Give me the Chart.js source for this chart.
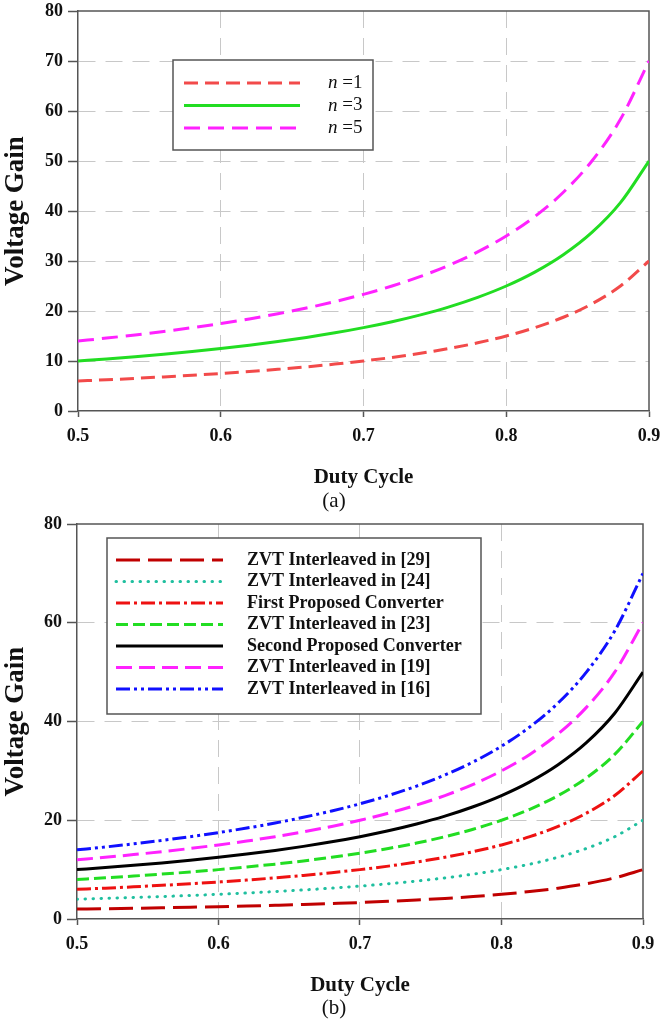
<!DOCTYPE html>
<html>
<head>
<meta charset="utf-8">
<script src="https://cdn.jsdelivr.net/npm/chart.js@4.4.1/dist/chart.umd.min.js"></script>
<style>
html,body{margin:0;padding:0;background:#fff;width:660px;height:1022px;overflow:hidden;position:relative}
.wrap{position:absolute;left:0;width:660px}
#w1{top:0;height:520px}
#w2{top:490px;height:532px}
.cap{position:absolute;left:0;width:668px;text-align:center;font-family:"Liberation Serif","Times New Roman",serif;font-size:21px;line-height:24px;color:#111}
</style>
</head>
<body>
<div class="wrap" id="w1"><canvas id="c1" width="660" height="520"></canvas></div>
<div class="wrap" id="w2"><canvas id="c2" width="660" height="532"></canvas></div>
<div class="cap" style="top:488px">(a)</div>
<div class="cap" style="top:995px">(b)</div>
<script>
// ---------- data ----------
const duty = [0.50,0.52,0.54,0.56,0.58,0.60,0.62,0.64,0.66,0.68,0.70,0.72,0.74,0.76,0.78,0.80,0.82,0.84,0.86,0.88,0.90];

// (a)
const labelsA = ['n =1','n =3','n =5'];
const gainN1 = [6,6.25,6.52,6.82,7.14,7.5,7.89,8.33,8.82,9.38,10,10.71,11.54,12.5,13.64,15,16.67,18.75,21.43,25,30];
const gainN3 = [10,10.42,10.87,11.36,11.9,12.5,13.16,13.89,14.71,15.63,16.67,17.86,19.23,20.83,22.73,25,27.78,31.25,35.71,41.67,50];
const gainN5 = [14,14.58,15.22,15.91,16.67,17.5,18.42,19.44,20.59,21.88,23.33,25,26.92,29.17,31.82,35,38.89,43.75,50,58.33,70];

// (b)
const labelsB = ['ZVT Interleaved in [29]','ZVT Interleaved in [24]','First Proposed Converter','ZVT Interleaved in [23]','Second Proposed Converter','ZVT Interleaved in [19]','ZVT Interleaved in [16]'];
const gainRef29 = [2,2.08,2.17,2.27,2.38,2.5,2.63,2.78,2.94,3.13,3.33,3.57,3.85,4.17,4.55,5,5.56,6.25,7.14,8.33,10];
const gainRef24 = [4,4.17,4.35,4.55,4.76,5,5.26,5.56,5.88,6.25,6.67,7.14,7.69,8.33,9.09,10,11.11,12.5,14.29,16.67,20];
const gainFirst = [6,6.25,6.52,6.82,7.14,7.5,7.89,8.33,8.82,9.38,10,10.71,11.54,12.5,13.64,15,16.67,18.75,21.43,25,30];
const gainRef23 = [8,8.33,8.7,9.09,9.52,10,10.53,11.11,11.76,12.5,13.33,14.29,15.38,16.67,18.18,20,22.22,25,28.57,33.33,40];
const gainSecond = [10,10.42,10.87,11.36,11.9,12.5,13.16,13.89,14.71,15.63,16.67,17.86,19.23,20.83,22.73,25,27.78,31.25,35.71,41.67,50];
const gainRef19 = [12,12.5,13.04,13.64,14.29,15,15.79,16.67,17.65,18.75,20,21.43,23.08,25,27.27,30,33.33,37.5,42.86,50,60];
const gainRef16 = [14,14.58,15.22,15.91,16.67,17.5,18.42,19.44,20.59,21.88,23.33,25,26.92,29.17,31.82,35,38.89,43.75,50,58.33,70];

const xTitle = 'Duty Cycle';
const yTitle = 'Voltage Gain';
const xMin = 0.5, xMax = 0.9, xStep = 0.1;
const yMin = 0, yMax = 80;

// ---------- helpers ----------
const SERIF = '"Liberation Serif","Times New Roman",serif';
const AXIS = '#555';
const GRID = '#c8c8c8';

function pts(ys){ return duty.map((x,i)=>({x:x, y:ys[i]})); }
function ds(label, ys, color, dash, cap){
  return {label:label, data:pts(ys), borderColor:color, backgroundColor:color, borderWidth:3,
    borderDash:dash, borderCapStyle:cap||'butt', pointRadius:0, pointHoverRadius:0,
    showLine:true, fill:false, cubicInterpolationMode:'monotone'};
}
function near(a,b){ return Math.abs(a-b) < 1e-6; }

function makeScales(yStep, yAxisW, xAxisH){
  return {
    x:{
      type:'linear', min:xMin, max:xMax,
      ticks:{stepSize:xStep, autoSkip:false, maxRotation:0, padding:9, color:'#111',
        font:{family:SERIF, size:18, weight:'bold'},
        callback:v=>Number(v).toFixed(1)},
      grid:{
        color:c=>(c.tick && (near(c.tick.value,xMin)||near(c.tick.value,xMax))) ? 'rgba(0,0,0,0)' : GRID,
        lineWidth:1, tickLength:6, tickColor:AXIS, tickWidth:1.5, tickBorderDash:[]},
      border:{display:true, color:AXIS, width:1.5, dash:[17,10]},
      title:{display:true, text:xTitle, color:'#111', font:{family:SERIF, size:21, weight:'bold'}, padding:{top:0,bottom:1}},
      afterFit:s=>{ s.height = xAxisH; s.paddingLeft = 0; s.paddingRight = 0; }
    },
    y:{
      type:'linear', min:yMin, max:yMax,
      ticks:{stepSize:yStep, padding:5, color:'#111', font:{family:SERIF, size:18, weight:'bold'}},
      grid:{
        color:c=>(c.tick && (near(c.tick.value,yMin)||near(c.tick.value,yMax))) ? 'rgba(0,0,0,0)' : GRID,
        lineWidth:1, tickLength:10, tickColor:AXIS, tickWidth:1.5, tickBorderDash:[]},
      border:{display:true, color:AXIS, width:1.5, dash:[17,10]},
      title:{display:true, text:yTitle, color:'#111', font:{family:SERIF, size:27, weight:'bold'}, padding:{top:0,bottom:0}},
      afterFit:s=>{ s.width = yAxisW; s.paddingTop = 0; s.paddingBottom = 0; }
    }
  };
}

// frame (top + right edges of plot area)
const framePlugin = {
  id:'frame',
  beforeDatasetsDraw(chart){
    const a = chart.chartArea, ctx = chart.ctx;
    ctx.save();
    ctx.strokeStyle = AXIS; ctx.lineWidth = 1.5; ctx.setLineDash([]);
    ctx.beginPath();
    ctx.moveTo(a.left, a.top); ctx.lineTo(a.right, a.top); ctx.lineTo(a.right, a.bottom);
    ctx.stroke();
    ctx.restore();
  }
};

// boxed legend inside plot area
const boxLegend = {
  id:'boxLegend',
  afterDatasetsDraw(chart, args, o){
    if(!o || !o.box) return;
    const ctx = chart.ctx, b = o.box;
    ctx.save();
    ctx.fillStyle = '#fff'; ctx.fillRect(b.x, b.y, b.w, b.h);
    ctx.strokeStyle = AXIS; ctx.lineWidth = 1.5; ctx.setLineDash([]);
    ctx.strokeRect(b.x, b.y, b.w, b.h);
    chart.data.datasets.forEach((d,i)=>{
      const y = o.rowY + i*o.rowGap;
      ctx.beginPath();
      ctx.strokeStyle = d.borderColor; ctx.lineWidth = d.borderWidth;
      ctx.lineCap = d.borderCapStyle || 'butt';
      ctx.setLineDash(d.borderDash || []);
      ctx.moveTo(o.x1, y); ctx.lineTo(o.x2, y); ctx.stroke();
      ctx.setLineDash([]);
      ctx.fillStyle = '#111'; ctx.textBaseline = 'middle'; ctx.textAlign = 'left';
      if(o.italicFirst){
        ctx.font = 'italic 19px ' + SERIF;
        const first = d.label.charAt(0);
        ctx.fillText(first, o.textX, y);
        const w = ctx.measureText(first).width;
        ctx.font = '19px ' + SERIF;
        ctx.fillText(d.label.slice(1), o.textX + w, y);
      } else {
        ctx.font = o.font;
        ctx.fillText(d.label, o.textX, y);
      }
    });
    ctx.restore();
  }
};

Chart.defaults.animation = false;
Chart.defaults.responsive = false;
Chart.defaults.maintainAspectRatio = false;

// ---------- chart (a) ----------
new Chart(document.getElementById('c1'), {
  type:'scatter',
  data:{datasets:[
    ds(labelsA[0], gainN1, '#f24a4a', [14,7]),
    ds(labelsA[1], gainN3, '#22dd22', []),
    ds(labelsA[2], gainN5, '#ff22ff', [16,8])
  ]},
  options:{
    layout:{padding:{top:11, right:11, bottom:29, left:0}},
    plugins:{
      legend:{display:false}, tooltip:{enabled:false},
      boxLegend:{box:{x:173,y:60,w:200,h:90}, x1:184, x2:300, rowY:83, rowGap:22.5, textX:328, italicFirst:true}
    },
    scales:makeScales(10, 78, 80)
  },
  plugins:[framePlugin, boxLegend]
});

// ---------- chart (b) ----------
new Chart(document.getElementById('c2'), {
  type:'scatter',
  data:{datasets:[
    ds(labelsB[0], gainRef29, '#c00000', [24,8]),
    ds(labelsB[1], gainRef24, '#1fbf9f', [0.5,7.5], 'round'),
    ds(labelsB[2], gainFirst, '#ee1111', [14,4,3,4]),
    ds(labelsB[3], gainRef23, '#22dd22', [12,5]),
    ds(labelsB[4], gainSecond, '#000000', []),
    ds(labelsB[5], gainRef19, '#ff22ff', [16,7]),
    ds(labelsB[6], gainRef16, '#1010ff', [14,4,3,4,3,4])
  ]},
  options:{
    layout:{padding:{top:34, right:17, bottom:23, left:0}},
    plugins:{
      legend:{display:false}, tooltip:{enabled:false},
      boxLegend:{box:{x:107,y:48,w:374,h:176}, x1:116, x2:223, rowY:70, rowGap:21.5, textX:247,
        font:'bold 18px ' + SERIF}
    },
    scales:makeScales(20, 77, 80)
  },
  plugins:[framePlugin, boxLegend]
});
</script>
</body>
</html>
